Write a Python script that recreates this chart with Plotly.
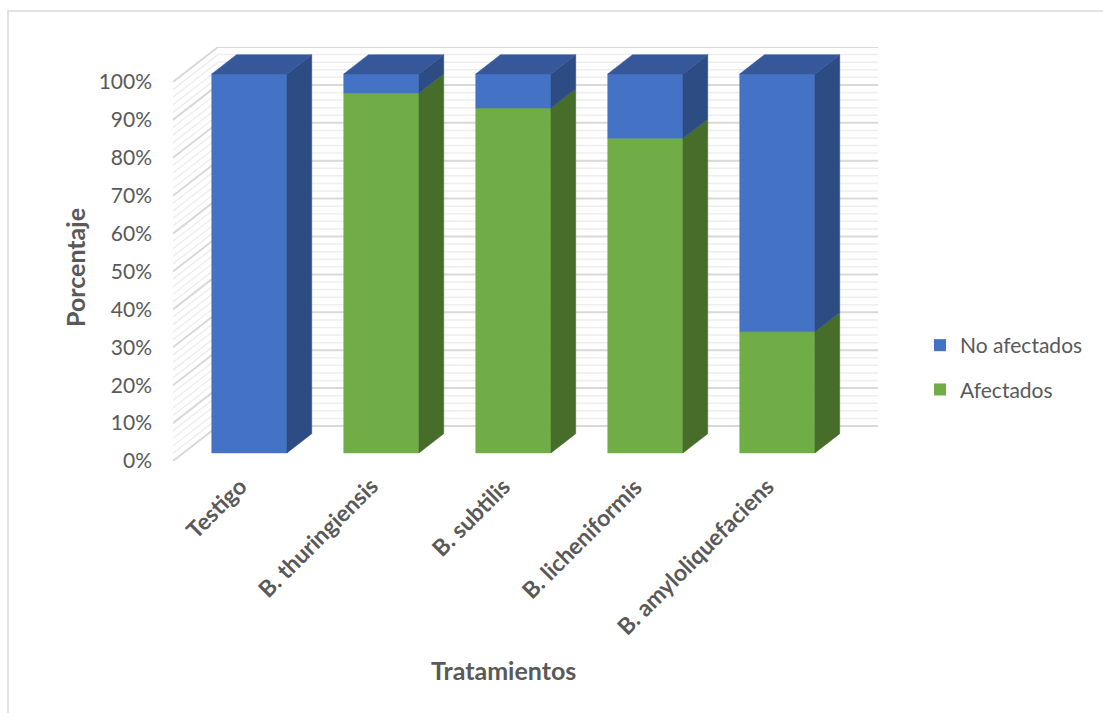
import plotly.graph_objects as go

# ---- data ----
categories = ["Testigo", "B. thuringiensis", "B. subtilis", "B. licheniformis", "B. amyloliquefaciens"]
afectados = [0, 95, 91, 83, 32]
no_afectados = [100, 5, 9, 17, 68]
y_ticks = [0, 10, 20, 30, 40, 50, 60, 70, 80, 90, 100]
y_ticktext = [f"{v}%" for v in y_ticks]

# ---- styling / geometry ----
W, H = 1103, 713
PL, PR, PT, PB = 173, 878, 47, 461          # plot area in px
WALL_DX, WALL_DY = 0.341, 9.23              # depth of the 3D box (x units, % units)
D0, D1 = 0.23, 0.78                         # bar front/back depth fractions
BAR_W = 0.57
TXT = "#595959"
FONT = "Lato"
BLUE = dict(front="#4472C4", side="#2D4C84", top="#36589A")
GREEN = dict(front="#70AD47", side="#476D2B", top="#5B8C39")

n = len(categories)
x_min, x_max = -0.5, n - 0.5 + WALL_DX
y_min, y_max = 0, 100 + WALL_DY


def P(x, v, d):
    return x + d * WALL_DX, v + d * WALL_DY


def poly(pts):
    xs = [p[0] for p in pts] + [pts[0][0]]
    ys = [p[1] for p in pts] + [pts[0][1]]
    return xs, ys


px_x = lambda px: (px - PL) / (PR - PL)
px_y = lambda py: (PB - py) / (PB - PT)
x_to_paper = lambda x: (x - x_min) / (x_max - x_min)

fig = go.Figure()

# ---- gridlines (back wall + left wall) ----
for major in (False, True):
    gx, gy = [], []
    for v in range(0, 101, 2):
        if (v % 10 == 0) != major:
            continue
        a = P(-0.5, v, 1)
        b = P(n - 0.5, v, 1)
        gx += [a[0], b[0], None]
        gy += [a[1], b[1], None]
        c = P(-0.5, v, 0)
        gx += [c[0], a[0], None]
        gy += [c[1], a[1], None]
    fig.add_trace(go.Scatter(x=gx, y=gy, mode="lines", hoverinfo="skip", showlegend=False,
                             line=dict(color="#D9D9D9" if major else "#EEEEEE",
                                       width=2 if major else 1.5)))

# ---- 3D stacked bars ----
for i in range(n):
    xL, xR = i - BAR_W / 2, i + BAR_W / 2
    segs = [(0, afectados[i], GREEN), (afectados[i], afectados[i] + no_afectados[i], BLUE)]
    segs = [s for s in segs if s[1] > s[0]]
    for k, (lo, hi, col) in enumerate(segs):
        faces = [
            ([P(xL, lo, D0), P(xR, lo, D0), P(xR, hi, D0), P(xL, hi, D0)], col["front"]),
            ([P(xR, lo, D0), P(xR, lo, D1), P(xR, hi, D1), P(xR, hi, D0)], col["side"]),
        ]
        if k == len(segs) - 1:
            faces.append(([P(xL, hi, D0), P(xR, hi, D0), P(xR, hi, D1), P(xL, hi, D1)], col["top"]))
        for pts, c in faces:
            xs, ys = poly(pts)
            fig.add_trace(go.Scatter(x=xs, y=ys, mode="lines", fill="toself", fillcolor=c,
                                     line=dict(color=c, width=0.5), hoverinfo="skip",
                                     showlegend=False))

# ---- legend entries ----
for name, col, grp in [("No afectados", BLUE["front"], "a"), ("Afectados", GREEN["front"], "b")]:
    fig.add_trace(go.Scatter(x=[None], y=[None], mode="markers", name=name, legendgroup=grp,
                             marker=dict(symbol="square", size=12, color=col)))

# ---- category labels ----
for i, cat in enumerate(categories):
    fig.add_annotation(x=x_to_paper(i + D0 * WALL_DX + 0.035), y=px_y(469), xref="paper", yref="paper",
                       text=f"<b>{cat}</b>", textangle=-45, xanchor="right", yanchor="top",
                       showarrow=False, font=dict(family=FONT, size=23, color=TXT))

fig.add_annotation(x=px_x(503), y=px_y(670), xref="paper", yref="paper", text="<b>Tratamientos</b>",
                   xanchor="center", yanchor="middle",
                   showarrow=False, font=dict(family=FONT, size=25, color=TXT))
fig.add_annotation(x=px_x(75), y=px_y(268), xref="paper", yref="paper", text="<b>Porcentaje</b>",
                   xanchor="center", yanchor="middle",
                   textangle=-90, showarrow=False, font=dict(family=FONT, size=25, color=TXT))

# chart border
fig.add_shape(type="rect", xref="paper", yref="paper", x0=px_x(8), x1=px_x(1110), y0=px_y(720),
              y1=px_y(11), line=dict(color="#D9D9D9", width=1.5), layer="below")

fig.update_layout(
    width=W, height=H,
    margin=dict(l=PL, r=W - PR, t=PT, b=H - PB, pad=0),
    paper_bgcolor="white", plot_bgcolor="white",
    font=dict(family=FONT, color=TXT, size=21),
    xaxis=dict(range=[x_min, x_max], showgrid=False, zeroline=False, showticklabels=False,
               showline=False, fixedrange=True),
    yaxis=dict(range=[y_min, y_max], tickvals=y_ticks, ticktext=y_ticktext, showgrid=False,
               zeroline=False, showline=False, ticks="", ticklabelstandoff=20,
               tickfont=dict(family=FONT, size=21, color=TXT), fixedrange=True),
    showlegend=True,
    legend=dict(x=px_x(920), y=px_y(325), xanchor="left", yanchor="top", tracegroupgap=14,
                font=dict(family=FONT, size=21, color=TXT), bgcolor="rgba(0,0,0,0)"),
)

fig.write_html("out.html")
